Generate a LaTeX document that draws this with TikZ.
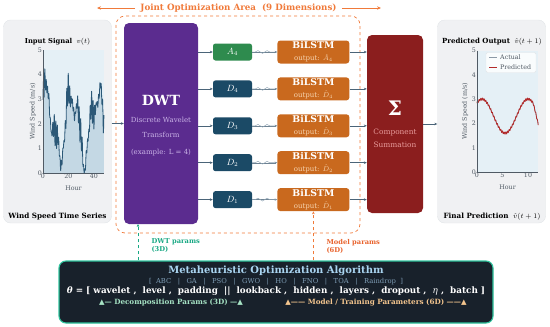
\documentclass[tikz,border=0pt]{standalone}
\usepackage{fontspec}
\setmainfont{DejaVu Serif}
\newfontfamily\symfont{DejaVu Sans}
\usepackage{tikz}
\usetikzlibrary{arrows.meta, positioning, calc, decorations.pathmorphing}
\definecolor{panelbg}{HTML}{F0F1F3}
\definecolor{panelline}{HTML}{E2E5E8}
\definecolor{jointorange}{HTML}{F07A3A}
\definecolor{dwtpurple}{HTML}{5B2C8F}
\definecolor{dwtlight}{HTML}{C9B2E6}
\definecolor{approxgreen}{HTML}{2E8B4E}
\definecolor{detailblue}{HTML}{1B4A66}
\definecolor{lstmorange}{HTML}{C9691E}
\definecolor{lstmlight}{HTML}{F6D3AE}
\definecolor{sumred}{HTML}{8B1E1E}
\definecolor{sumlight}{HTML}{E79B9B}
\definecolor{arrowgray}{HTML}{4A6478}
\definecolor{wavegray}{HTML}{8FA3B3}
\definecolor{metabg}{HTML}{18212B}
\definecolor{metaline}{HTML}{2FC59E}
\definecolor{metablue}{HTML}{A9D4F0}
\definecolor{metagray}{HTML}{7E9DB5}
\definecolor{decgreen}{HTML}{A6E3C4}
\definecolor{modelorange}{HTML}{F3C58E}
\definecolor{teallbl}{HTML}{19A884}
\definecolor{orangelbl}{HTML}{E8622C}
\definecolor{plotbg}{HTML}{E5F0F6}
\definecolor{areafill}{HTML}{C4D8E4}
\definecolor{signalblue}{HTML}{2B5877}
\definecolor{predred}{HTML}{B22A2A}
\definecolor{actualgray}{HTML}{8C99A6}
\definecolor{tickgray}{HTML}{505A64}
\newcommand{\fsz}[2]{\fontsize{#1}{#2}\selectfont}

\begin{document}
\begin{tikzpicture}[x=1pt, y=-1pt,
    panel/.style={rectangle, rounded corners=7pt, fill=panelbg, draw=panelline, minimum width=108, minimum height=203},
    jointbox/.style={rectangle, rounded corners=9pt, draw=jointorange, dashed, line width=0.7pt, minimum width=244, minimum height=217},
    dwtbox/.style={rectangle, rounded corners=5pt, fill=dwtpurple, minimum width=74, minimum height=201, align=center, font=\fsz{7}{9}},
    comp/.style={rectangle, rounded corners=2.5pt, fill=detailblue, minimum width=39, minimum height=17, inner sep=0pt, text=white, font=\fsz{9}{10}},
    lstm/.style={rectangle, rounded corners=3pt, fill=lstmorange, minimum width=72, minimum height=23, inner sep=0pt, align=center, font=\fsz{7}{8}},
    sumbox/.style={rectangle, rounded corners=5pt, fill=sumred, minimum width=56, minimum height=178, align=center, font=\fsz{7.4}{9}},
    metabox/.style={rectangle, rounded corners=7pt, fill=metabg, draw=metaline, line width=1.1pt, minimum width=434, minimum height=62},
    arrow/.style={-{Stealth[length=3pt, width=2.6pt]}, line width=0.6pt, arrowgray},
    thinarrow/.style={-{Stealth[length=2.6pt, width=2.2pt]}, line width=0.4pt, arrowgray!80},
    jointarrow/.style={-{Stealth[length=4pt, width=3.4pt]}, line width=0.8pt, jointorange},
    wave/.style={wavegray, line width=0.45pt, decorate, decoration={snake, amplitude=1.4pt, segment length=9pt, pre length=3pt, post length=4pt}},
    tick/.style={font=\fsz{6.3}{7}, text=tickgray, inner sep=1pt},
    declare function={wind(\h)=max(0.02, 2.0+1.2*sin(18*\h+40)+0.6*sin(41*\h+10)+0.2*sin(97*\h)+0.25*sin(331*\h)+0.2*sin(293*\h+30)+0.15*sin(257*\h));
                      pred(\h)=2.3+0.7*cos(40*(\h-1))-0.45*(\h>11)*(\h-11)+0.05*sin(1100*\h);
                      actual(\h)=2.3+0.7*cos(40*(\h-1))-0.45*(\h>11)*(\h-11);}
]
\useasboundingbox (0,0) rectangle (550,327);

% side panels
\node (inpanel)  [panel] at (57.5,121.5) {};
\node (outpanel) [panel] at (491.5,121.5) {};

\node (intitle) [font=\fsz{6.8}{8}] at (57.5,42) {\textbf{Input Signal}\ \ $v(t)$};
\node (incap)   [font=\fsz{7.2}{8}\bfseries] at (57.5,217) {Wind Speed Time Series};
\node (outtitle) [font=\fsz{7}{8}] at (492,42) {\textbf{Predicted Output}\ \ $\hat{v}(t+1)$};
\node (outcap)   [font=\fsz{7.2}{8}] at (492,217) {\textbf{Final Prediction}\ \ $\hat{v}(t+1)$};

% input plot
\begin{scope}[shift={(43,173)}, x=1.27pt, y=24.6pt]
  \fill[plotbg] (0,0) rectangle (48,5);
  \fill[areafill] (0,0) -- plot[domain=0:48, samples=400] (\x,{wind(\x)}) -- (48,0) -- cycle;
  \draw[signalblue, line width=0.8pt, line join=round] plot[domain=0:48, samples=400] (\x,{wind(\x)});
  \draw[tickgray, line width=0.5pt] (0,5) -- (0,0) -- (48,0);
  \foreach \v in {0,...,5} \node (iny\v) [tick, left] at (0,\v) {\v};
  \foreach \h in {0,20,40} \node (inx\h) [tick, below] at (\h,0) {\h};
  \node (inhour) [tick] at (24,-0.64) {Hour};
  \node (inylab) [tick, rotate=90] at (-7.9,2.5) {Wind Speed (m/s)};
\end{scope}

% output plot
\begin{scope}[shift={(477,172)}, x=5.1pt, y=24.3pt]
  \fill[plotbg] (0,0) rectangle (12,5);
  \draw[actualgray, line width=0.6pt] plot[domain=0:12, samples=120] (\x,{actual(\x)});
  \draw[predred, line width=0.8pt, line join=round] plot[domain=0:12, samples=160] (\x,{pred(\x)});
  \draw[tickgray, line width=0.5pt] (0,5) -- (0,0) -- (12,0);
  \foreach \v in {0,...,5} \node (outy\v) [tick, left] at (0,\v) {\v};
  \foreach \h in {0,5,10} \node (outx\h) [tick, below] at (\h,0) {\h};
  \node (outhour) [tick] at (6,-0.64) {Hour};
  \node (outylab) [tick, rotate=90] at (-2.35,2.5) {Wind Speed (m/s)};
\end{scope}
\node (legend) [rectangle, rounded corners=1.5pt, fill=white, fill opacity=0.8, draw=panelline, minimum width=50, minimum height=20] at (511,62.5) {};
\draw[actualgray, line width=0.6pt] (489,57.5) -- (497,57.5);
\draw[predred, line width=0.8pt] (489,67) -- (497,67);
\node (legact)  [tick, anchor=west] at (499,57.5) {Actual};
\node (legpred) [tick, anchor=west] at (499,67) {Predicted};

% joint optimization area
\node (joint) [jointbox] at (238,124.5) {};
\node (jointlbl) [font=\fsz{8.7}{10}\bfseries, text=jointorange, inner sep=5pt] at (238.5,8) {Joint Optimization Area\ \ (9 Dimensions)};
\coordinate (jointL) at (97,8);
\coordinate (jointR) at (381,8);
\draw[jointarrow] (jointlbl.west) -- (jointL);
\draw[jointarrow] (jointlbl.east) -- (jointR);

% decomposition
\node (dwt) [dwtbox] at (161,123.5) {\rule{0pt}{0pt}\\[3pt]
  {\fsz{14}{16}\bfseries\color{white} DWT}\\[8pt]
  {\color{dwtlight} Discrete Wavelet}\\[6pt]
  {\color{dwtlight} Transform}\\[8pt]
  {\color{dwtlight} (example: L = 4)}};

\node (cA4) [comp, fill=approxgreen] at (232.5,52) {$A_4$};
\node (cD4) [comp, below=19.5pt of cA4] {$D_4$};
\node (cD3) [comp, below=19.5pt of cD4] {$D_3$};
\node (cD2) [comp, below=19.5pt of cD3] {$D_2$};
\node (cD1) [comp, below=19.5pt of cD2] {$D_1$};

\node (lstmA4) [lstm, right=25pt of cA4] {{\fsz{9.3}{10}\bfseries\color{white} BiLSTM}\\[4pt]{\color{lstmlight} output: $\hat{A}_4$}};
\node (lstmD4) [lstm, right=25pt of cD4] {{\fsz{9.3}{10}\bfseries\color{white} BiLSTM}\\[4pt]{\color{lstmlight} output: $\hat{D}_4$}};
\node (lstmD3) [lstm, right=25pt of cD3] {{\fsz{9.3}{10}\bfseries\color{white} BiLSTM}\\[4pt]{\color{lstmlight} output: $\hat{D}_3$}};
\node (lstmD2) [lstm, right=25pt of cD2] {{\fsz{9.3}{10}\bfseries\color{white} BiLSTM}\\[4pt]{\color{lstmlight} output: $\hat{D}_2$}};
\node (lstmD1) [lstm, right=25pt of cD1] {{\fsz{9.3}{10}\bfseries\color{white} BiLSTM}\\[4pt]{\color{lstmlight} output: $\hat{D}_1$}};

\node (sum) [sumbox] at (395,124) {{\fsz{20}{22}\bfseries\color{white} Σ}\\[10pt]
  {\color{sumlight} Component}\\[4pt]
  {\color{sumlight} Summation}};

\draw [arrow] (inpanel.east |- dwt) -- (dwt.west);
\draw [arrow] (cA4 -| dwt.east) -- (cA4);
\draw [arrow] (cD4 -| dwt.east) -- (cD4);
\draw [arrow] (cD3 -| dwt.east) -- (cD3);
\draw [arrow] (cD2 -| dwt.east) -- (cD2);
\draw [arrow] (cD1 -| dwt.east) -- (cD1);
\draw [thinarrow] (cA4) -- (lstmA4);
\draw [thinarrow] (cD4) -- (lstmD4);
\draw [thinarrow] (cD3) -- (lstmD3);
\draw [thinarrow] (cD2) -- (lstmD2);
\draw [thinarrow] (cD1) -- (lstmD1);
\draw [wave] (cA4.east) -- (lstmA4.west);
\draw [wave] (cD4.east) -- (lstmD4.west);
\draw [wave] (cD3.east) -- (lstmD3.west);
\draw [wave] (cD2.east) -- (lstmD2.west);
\draw [wave] (cD1.east) -- (lstmD1.west);
\draw [arrow] (lstmA4) -- (lstmA4 -| sum.west);
\draw [arrow] (lstmD4) -- (lstmD4 -| sum.west);
\draw [arrow] (lstmD3) -- (lstmD3 -| sum.west);
\draw [arrow] (lstmD2) -- (lstmD2 -| sum.west);
\draw [arrow] (lstmD1) -- (lstmD1 -| sum.west);
\draw [arrow] (sum.east) -- (sum.east -| outpanel.west);

% optimizer
\node (meta) [metabox] at (276,292) {};
\node (metatitle) [font=\fsz{10}{11}\bfseries, text=metablue] at (276,271) {Metaheuristic Optimization Algorithm};
\node (metalist) [font=\fsz{6.8}{8}, text=metagray] at (276,281.5) {[\ \ ABC\ \ \ |\ \ \ GA\ \ \ |\ \ \ PSO\ \ \ |\ \ \ GWO\ \ \ |\ \ \ HO\ \ \ |\ \ \ FNO\ \ \ |\ \ \ TOA\ \ \ |\ \ \ Raindrop\ \ ]};
\node (metatheta) [font=\fsz{8.8}{10}\bfseries, text=white] at (276,291) {\textit{θ} = [\ wavelet\ ,\ \ level\ ,\ \ padding\ \ ||\ \ lookback\ ,\ \ hidden\ ,\ \ layers\ ,\ \ dropout\ ,\ \ \textmd{\textit{η}}\ ,\ \ batch\ ]};
\node (metadec) [font=\fsz{7.2}{8}\bfseries, text=decgreen] at (171,302.5) {{\symfont▲}— Decomposition Params (3D) —{\symfont▲}};
\node (metamodel) [font=\fsz{7.2}{8}\bfseries, text=modelorange] at (376,302.5) {{\symfont▲}—— Model / Training Parameters (6D) ——{\symfont▲}};

\coordinate (dwtport) at (138,224);
\draw [-{Stealth[length=3pt, width=2.6pt]}, dashed, line width=0.7pt, teallbl] (dwtport |- meta.north) -- (dwtport);
\draw [-{Stealth[length=3pt, width=2.6pt]}, dashed, line width=0.7pt, jointorange] (meta.north -| lstmD1.south) -- (lstmD1.south);
\node (dwtparams) [font=\fsz{6.7}{8}\bfseries, text=teallbl, align=left, anchor=west] at (148,246) {DWT params\\(3D)};
\node (modelparams) [font=\fsz{6.7}{8}\bfseries, text=orangelbl, align=left, anchor=west] at (323,246) {Model params\\(6D)};

\end{tikzpicture}
\end{document}
